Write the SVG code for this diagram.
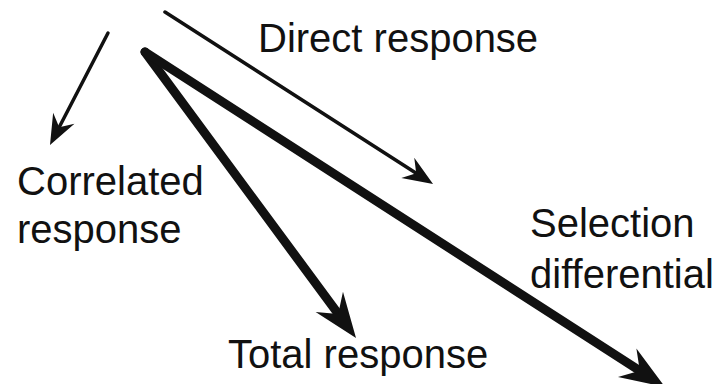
<svg xmlns="http://www.w3.org/2000/svg" width="727" height="384" viewBox="0 0 727 384">
<style>
  .lbl { font-family: "Liberation Sans", Arial, sans-serif; font-size: 40px; fill: #111; }
  .thin { stroke: #111; stroke-width: 3.5; fill: none; stroke-linecap: round; }
  .thick { stroke: #111; stroke-width: 9; fill: none; stroke-linecap: round; }
</style>
<defs>
  <marker id="headThin" markerUnits="userSpaceOnUse" markerWidth="40" markerHeight="40" refX="10" refY="0" orient="auto" overflow="visible">
    <path d="M30,0 L0,-12 L10,0 L0,12 Z" fill="#111"/>
  </marker>
  <marker id="headThick" markerUnits="userSpaceOnUse" markerWidth="50" markerHeight="50" refX="15" refY="0" orient="auto" overflow="visible">
    <path d="M45,0 L0,-17 L15,0 L0,17 Z" fill="#111"/>
  </marker>
</defs>
<rect width="727" height="384" fill="#fff"/>
<g id="connectors">
  <line id="correlated-arrow" class="thin" x1="108" y1="33" x2="59.2" y2="127.2" marker-end="url(#headThin)"/>
  <line id="direct-arrow" class="thin" x1="165" y1="12" x2="416.2" y2="173.2" marker-end="url(#headThin)"/>
  <line id="total-arrow" class="thick" x1="145" y1="52" x2="338.2" y2="313.9" marker-end="url(#headThick)"/>
  <line id="selection-arrow" class="thick" x1="145" y1="52" x2="639.8" y2="370.8" marker-end="url(#headThick)"/>
</g>
<g id="direct-response"><text class="lbl" x="258" y="52">Direct response</text></g>
<g id="correlated-response"><text class="lbl" x="17" y="195">Correlated</text><text class="lbl" x="17" y="243">response</text></g>
<g id="selection-differential"><text class="lbl" x="530" y="237">Selection</text><text class="lbl" x="530" y="288">differential</text></g>
<g id="total-response"><text class="lbl" x="228" y="368">Total response</text></g>
</svg>
